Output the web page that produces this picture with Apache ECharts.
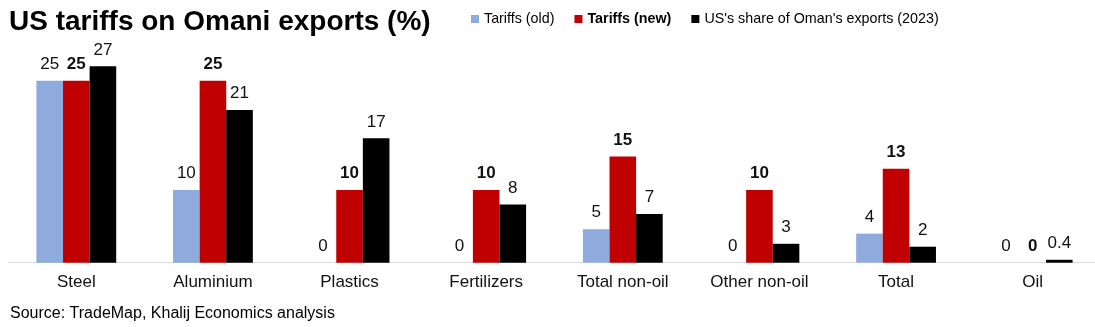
<!DOCTYPE html>
<html>
<head>
<meta charset="utf-8">
<script src="https://cdn.jsdelivr.net/npm/echarts@6/dist/echarts.min.js"></script>
<style>html,body{margin:0;padding:0;background:#fff;overflow:hidden}#c{width:1101px;height:327px}</style>
</head>
<body>
<div id="c"></div>
<script>
const categories = ['Steel', 'Aluminium', 'Plastics', 'Fertilizers', 'Total non-oil', 'Other non-oil', 'Total', 'Oil'];
const tariffsOld = [25, 10, 0, 0, 4.6, 0, 4.0, 0];
const tariffsNew = [25, 25, 10, 10, 14.6, 10, 12.9, 0];
const usShare = [27, 21, 17.1, 8, 6.7, 2.6, 2.2, 0.4];
const seriesNames = ['Tariffs (old)', 'Tariffs (new)', "US's share of Oman's exports (2023)"];
const titleText = 'US tariffs on Omani exports (%)';
const sourceText = 'Source: TradeMap, Khalij Economics analysis';

const FONT = "'Liberation Sans', Arial, sans-serif";
const fmt = p => (p.value > 0 && p.value < 1) ? p.value.toFixed(1) : String(Math.round(p.value));

const chart = echarts.init(document.getElementById('c'), null, {renderer: 'canvas'});
function mkSeries(name, data, color, bold) {
  return {
    name: name, type: 'bar', data: data, barWidth: 26.6, barGap: '0%',
    itemStyle: {color: color},
    label: {show: true, position: 'top', distance: 8, formatter: fmt,
      fontFamily: FONT, fontSize: 17, color: '#111', fontWeight: bold ? 'bold' : 'normal'}
  };
}
chart.setOption({
  animation: false,
  title: [
    {text: titleText, left: 4, top: 3, textStyle: {fontFamily: FONT, fontSize: 28, fontWeight: 'bold', color: '#000'}},
    {text: sourceText, left: 5, top: 301, textStyle: {fontFamily: FONT, fontSize: 16, fontWeight: 'normal', color: '#000'}}
  ],
  legend: {
    left: 471, top: 12, padding: 0, icon: 'rect', itemWidth: 8, itemHeight: 8, itemGap: 20,
    textStyle: {fontFamily: FONT, fontSize: 14.3, color: '#000'},
    data: [
      {name: seriesNames[0]},
      {name: seriesNames[1], textStyle: {fontWeight: 'bold'}},
      {name: seriesNames[2]}
    ]
  },
  grid: {left: 8, right: 0, top: 44.5, height: 218.2, containLabel: false},
  xAxis: {
    type: 'category', data: categories,
    axisLine: {lineStyle: {color: '#d9d9d9', width: 1}},
    axisTick: {show: false},
    axisLabel: {fontFamily: FONT, fontSize: 17, color: '#111', margin: 11}
  },
  yAxis: {type: 'value', min: 0, max: 30, show: false, splitLine: {show: false}},
  series: [
    mkSeries(seriesNames[0], tariffsOld, '#8faadc', false),
    mkSeries(seriesNames[1], tariffsNew, '#c00000', true),
    mkSeries(seriesNames[2], usShare, '#000000', false)
  ]
});
</script>
</body>
</html>
